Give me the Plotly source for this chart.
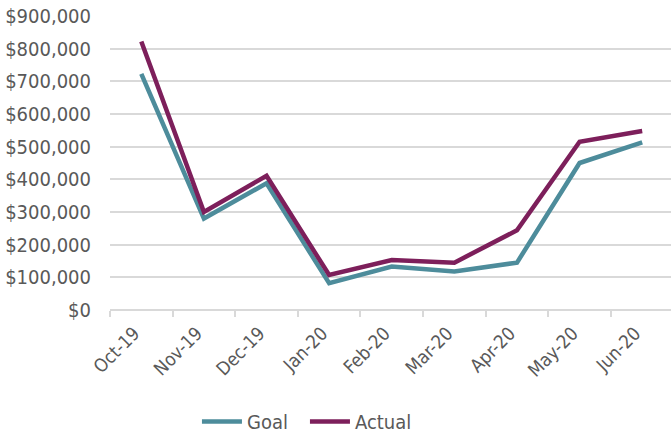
import plotly.graph_objects as go

months = ["Oct-19", "Nov-19", "Dec-19", "Jan-20", "Feb-20", "Mar-20", "Apr-20", "May-20", "Jun-20"]
goal = [723000, 280000, 388000, 82000, 133000, 118000, 145000, 450000, 513000]
actual = [822000, 300000, 411000, 107000, 153000, 145000, 244000, 515000, 548000]
y_ticks = [0, 100000, 200000, 300000, 400000, 500000, 600000, 700000, 800000, 900000]
y_tick_labels = ["$0", "$100,000", "$200,000", "$300,000", "$400,000", "$500,000",
                 "$600,000", "$700,000", "$800,000", "$900,000"]

GOAL_COLOR = "#4D8C9B"
ACTUAL_COLOR = "#7D1F5B"
TEXT_COLOR = "#595959"
GRID_COLOR = "#D9D9D9"
FONT = "DejaVu Sans Condensed, DejaVu Sans, sans-serif"

fig = go.Figure()
fig.add_trace(go.Scatter(x=months, y=goal, name="Goal", mode="lines",
                         line=dict(color=GOAL_COLOR, width=4.5)))
fig.add_trace(go.Scatter(x=months, y=actual, name="Actual", mode="lines",
                         line=dict(color=ACTUAL_COLOR, width=4.5)))

fig.update_layout(
    width=671, height=441,
    margin=dict(l=110, r=0, t=16, b=129),
    plot_bgcolor="white", paper_bgcolor="white",
    font=dict(family=FONT, size=20, color=TEXT_COLOR),
    showlegend=True,
    legend=dict(orientation="h", x=0.155, xanchor="left", y=-0.38, yanchor="middle",
                font=dict(size=20, color=TEXT_COLOR), itemwidth=40,
                entrywidth=53, entrywidthmode="pixels"),
    xaxis=dict(
        type="category", range=[-0.5, 8.46], tickson="boundaries",
        ticks="outside", ticklen=6, tickcolor=GRID_COLOR, tickwidth=1.5,
        showgrid=False, showline=False, zeroline=False, automargin=False,
        tickangle=-45, ticklabelstandoff=8, ticklabelshift=-7,
        tickfont=dict(size=18.5, color=TEXT_COLOR),
    ),
    yaxis=dict(
        range=[0, 900000], tickvals=y_ticks, ticktext=y_tick_labels,
        showgrid=True, gridcolor=GRID_COLOR, gridwidth=1.5,
        zeroline=True, zerolinecolor=GRID_COLOR, zerolinewidth=1.5, automargin=False,
        showline=False, ticks="", ticklabelstandoff=18,
        tickfont=dict(size=20, color=TEXT_COLOR),
    ),
)

fig.write_html("out.html")
